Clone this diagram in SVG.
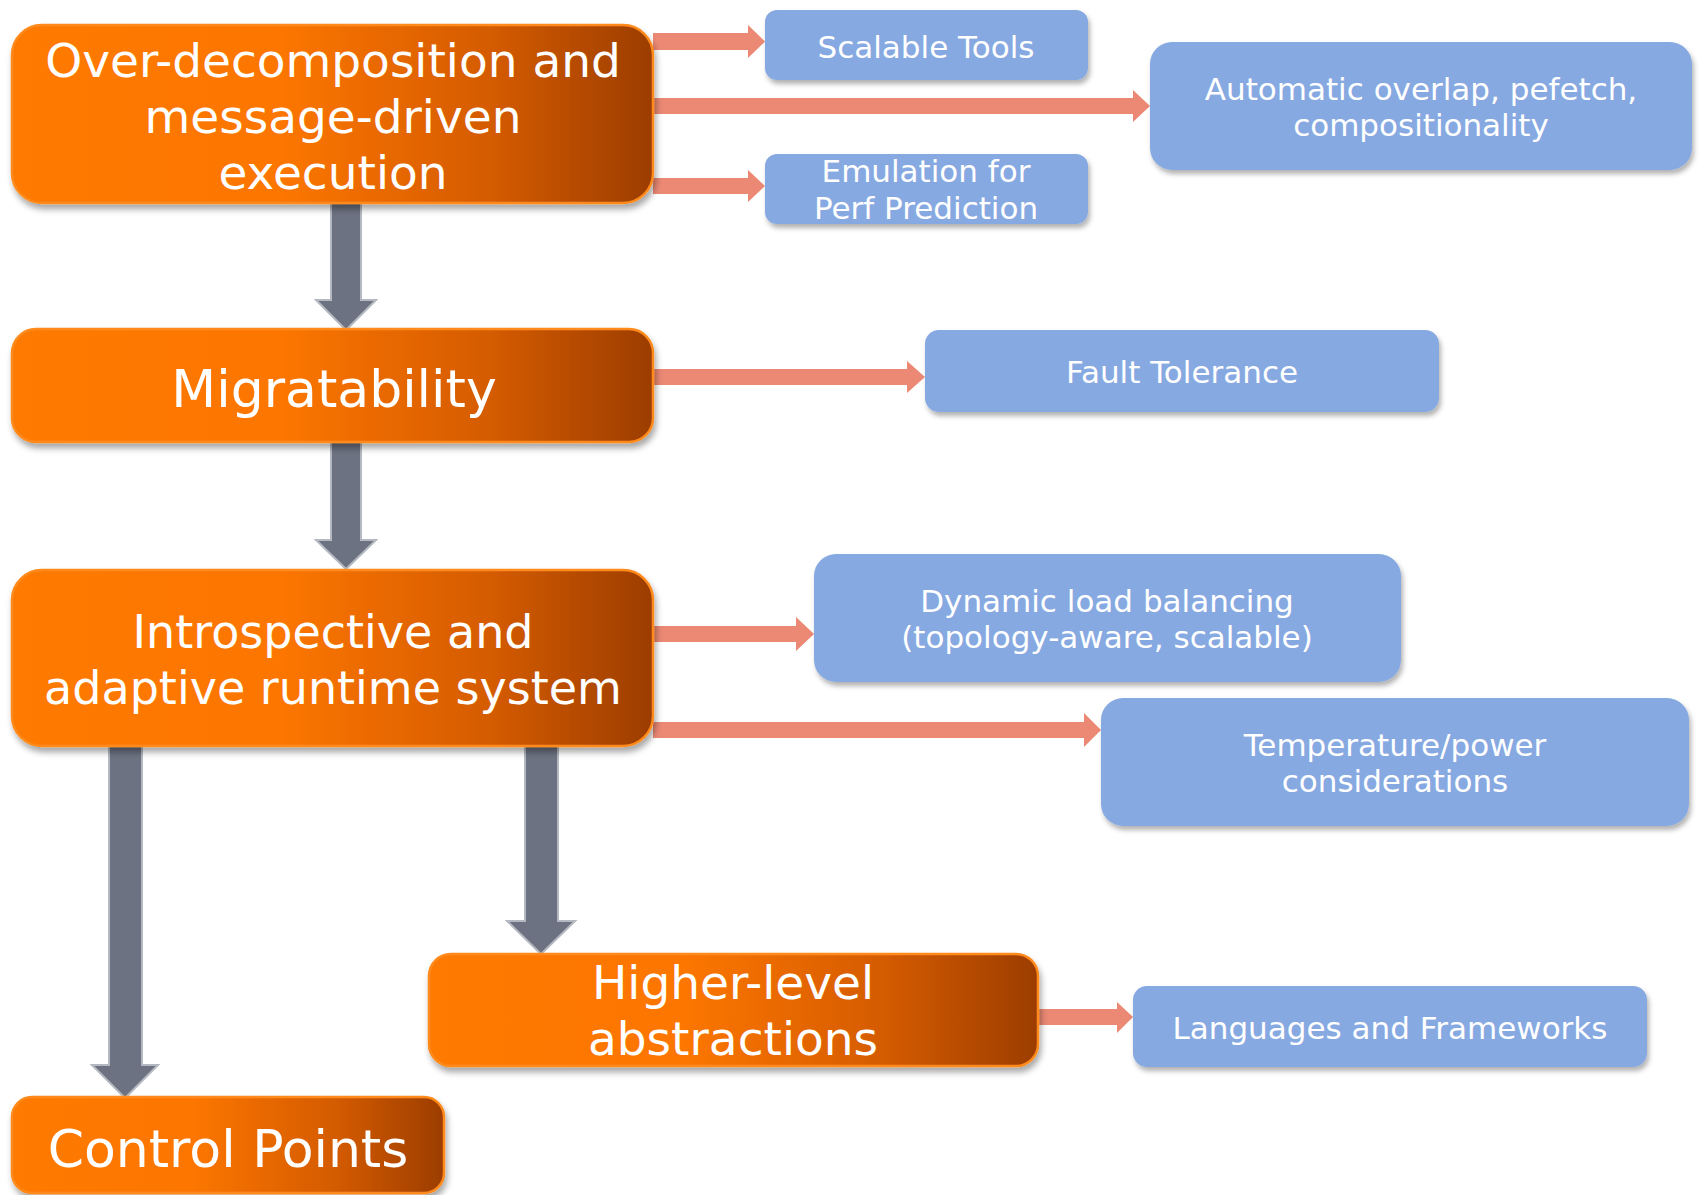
<svg xmlns="http://www.w3.org/2000/svg" width="1700" height="1195" viewBox="0 0 1700 1195">
  <defs>
    <linearGradient id="orangeFill" x1="0" y1="0" x2="1" y2="0">
      <stop offset="0" stop-color="#FF7A00"/>
      <stop offset="0.42" stop-color="#FC7600"/>
      <stop offset="0.75" stop-color="#D45B00"/>
      <stop offset="1" stop-color="#9C3D02"/>
    </linearGradient>
    <filter id="shadow" x="-10%" y="-20%" width="120%" height="150%">
      <feDropShadow dx="2" dy="5" stdDeviation="3" flood-color="#000000" flood-opacity="0.35"/>
    </filter>
    <filter id="softShadow" x="-10%" y="-20%" width="120%" height="150%">
      <feDropShadow dx="2" dy="4" stdDeviation="2.5" flood-color="#000000" flood-opacity="0.3"/>
    </filter>
  </defs>
  <style>
    .main rect { fill: url(#orangeFill); stroke: #FF8A1C; stroke-width: 2.5; filter: url(#shadow); }
    .main text { fill: #FFFFFF; font-family: "DejaVu Sans", "Liberation Sans", sans-serif; text-anchor: middle; }
    .leaf rect { fill: #87A9E1; filter: url(#softShadow); }
    .leaf text { fill: #FFFFFF; font-family: "DejaVu Sans", "Liberation Sans", sans-serif; font-size: 31px; text-anchor: middle; }
    .flow { fill: #6C7281; stroke: #B4B8C0; stroke-width: 2; stroke-linejoin: miter; }
    .feed { fill: #EB8974; }
  </style>
  <rect width="1700" height="1195" fill="#FFFFFF"/>

  <!-- connectors -->
  <g id="connectors">
    <!-- downward flow arrows -->
    <path class="flow" d="M331,202 H361 V300 H376 L346,330 L316,300 H331 Z"/>
    <path class="flow" d="M331,442 H361 V540 H376 L346,569 L316,540 H331 Z"/>
    <path class="flow" d="M109,745 H142 V1065 H158 L125,1098 L92,1065 H109 Z"/>
    <path class="flow" d="M525,745 H558 V921 H575 L541,954 L507,921 H525 Z"/>
    <!-- side arrows to the outcome boxes -->
    <path class="feed" d="M653,33 H748 V25 L765,41.5 L748,58 V50 H653 Z"/>
    <path class="feed" d="M653,98 H1133 V90 L1150,106 L1133,122 V114 H653 Z"/>
    <path class="feed" d="M653,178 H748 V170 L765,186 L748,202 V194 H653 Z"/>
    <path class="feed" d="M653,369 H907 V361 L925,377 L907,393 V385 H653 Z"/>
    <path class="feed" d="M653,626 H796 V617 L814,634 L796,651 V642 H653 Z"/>
    <path class="feed" d="M653,722 H1084 V713 L1101,730 L1084,747 V738 H653 Z"/>
    <path class="feed" d="M1038,1009 H1117 V1002 L1133,1017 L1117,1033 V1025 H1038 Z"/>
  </g>

  <!-- core concept nodes -->
  <g id="overdecomposition" class="main">
    <rect x="12" y="25" width="641" height="178" rx="30"/>
    <text font-size="47" x="333" y="77">Over-decomposition and</text>
    <text font-size="47" x="333" y="133">message-driven</text>
    <text font-size="47" x="333" y="189">execution</text>
  </g>
  <g id="migratability" class="main">
    <rect x="12" y="329" width="641" height="113" rx="24"/>
    <text font-size="52" x="334" y="407">Migratability</text>
  </g>
  <g id="introspective" class="main">
    <rect x="12" y="570" width="641" height="176" rx="30"/>
    <text font-size="46" x="333" y="648">Introspective and</text>
    <text font-size="46" x="333" y="704">adaptive runtime system</text>
  </g>
  <g id="higher-level" class="main">
    <rect x="429" y="954" width="609" height="112" rx="22"/>
    <text font-size="47" x="733" y="999">Higher-level</text>
    <text font-size="47" x="733" y="1055">abstractions</text>
  </g>
  <g id="control-points" class="main">
    <rect x="12" y="1097" width="432" height="96" rx="20"/>
    <text font-size="52" x="228" y="1167">Control Points</text>
  </g>

  <!-- outcome nodes -->
  <g id="scalable-tools" class="leaf">
    <rect x="765" y="10" width="323" height="70" rx="12"/>
    <text x="926" y="58">Scalable Tools</text>
  </g>
  <g id="automatic-overlap" class="leaf">
    <rect x="1150" y="42" width="542" height="128" rx="22"/>
    <text x="1421" y="100">Automatic overlap, pefetch,</text>
    <text x="1421" y="136">compositionality</text>
  </g>
  <g id="emulation" class="leaf">
    <rect x="765" y="154" width="323" height="70" rx="12"/>
    <text x="926" y="182">Emulation for</text>
    <text x="926" y="219">Perf Prediction</text>
  </g>
  <g id="fault-tolerance" class="leaf">
    <rect x="925" y="330" width="514" height="82" rx="14"/>
    <text x="1182" y="383">Fault Tolerance</text>
  </g>
  <g id="load-balancing" class="leaf">
    <rect x="814" y="554" width="587" height="128" rx="22"/>
    <text x="1107" y="612">Dynamic load balancing</text>
    <text x="1107" y="648">(topology-aware, scalable)</text>
  </g>
  <g id="temperature-power" class="leaf">
    <rect x="1101" y="698" width="588" height="128" rx="22"/>
    <text x="1395" y="756">Temperature/power</text>
    <text x="1395" y="792">considerations</text>
  </g>
  <g id="languages" class="leaf">
    <rect x="1133" y="986" width="514" height="81" rx="14"/>
    <text x="1390" y="1039">Languages and Frameworks</text>
  </g>
</svg>
